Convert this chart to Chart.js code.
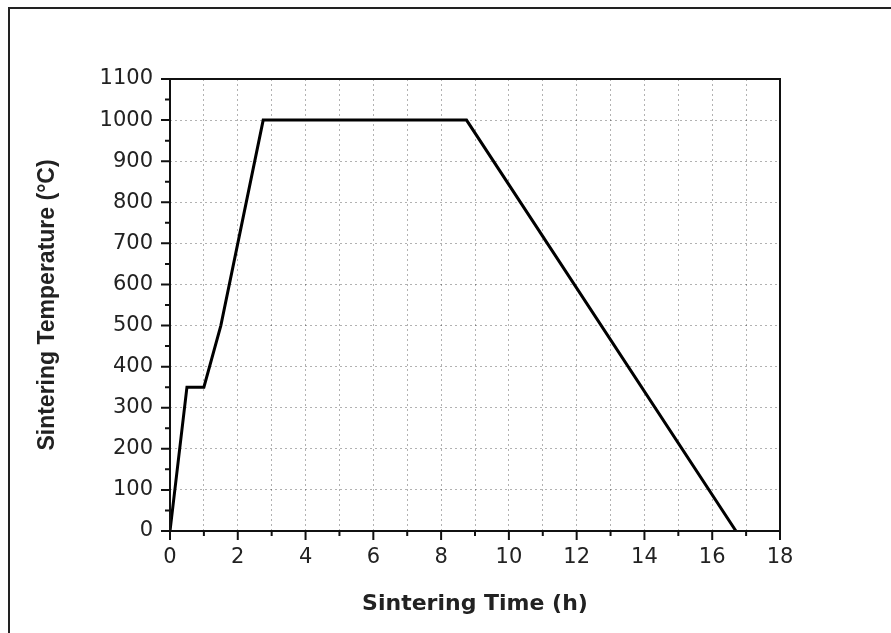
<!DOCTYPE html>
<html>
<head>
<meta charset="utf-8">
<title>Sintering Profile</title>
<script src="https://cdn.jsdelivr.net/npm/chart.js@4.4.0/dist/chart.umd.min.js"></script>
<style>
html, body { margin: 0; padding: 0; background: #fff; }
</style>
</head>
<body>
<canvas id="sintering" width="891" height="633"></canvas>
<script>
// heating schedule: time (h) vs furnace temperature (°C)
var timeH = [0, 0.5, 1.0, 1.5, 2.75, 8.75, 16.7];
var tempC = [0, 350, 350, 500, 1000, 1000, 0];

var xMin = 0, xMax = 18, xStep = 1;
var yMin = 0, yMax = 1100, yStep = 100;

var profile = timeH.map(function (t, i) {
    return { x: t, y: tempC[i] };
});

// outer frame, plot box and outward tick marks
var framePlugin = {
    id: 'frame',
    beforeDraw: function (chart) {
        var ctx = chart.ctx;
        ctx.save();
        ctx.fillStyle = '#fff';
        ctx.fillRect(0, 0, chart.width, chart.height);
        ctx.strokeStyle = '#222';
        ctx.lineWidth = 2;
        ctx.beginPath();
        ctx.moveTo(9, chart.height);
        ctx.lineTo(9, 8);
        ctx.lineTo(chart.width, 8);
        ctx.stroke();
        ctx.restore();
    },
    afterDatasetsDraw: function (chart) {
        var ctx = chart.ctx, a = chart.chartArea;
        var xs = chart.scales.x, ys = chart.scales.y;
        ctx.save();
        ctx.strokeStyle = '#111';
        ctx.lineWidth = 2;
        ctx.strokeRect(a.left, a.top, a.right - a.left, a.bottom - a.top);
        ctx.beginPath();
        for (var t = xMin; t <= xMax; t += xStep) {
            var px = xs.getPixelForValue(t);
            ctx.moveTo(px, a.bottom);
            ctx.lineTo(px, a.bottom + (t % 2 === 0 ? 9 : 5));
        }
        for (var v = yMin; v <= yMax; v += yStep / 2) {
            var py = ys.getPixelForValue(v);
            ctx.moveTo(a.left, py);
            ctx.lineTo(a.left - (v % yStep === 0 ? 9 : 5), py);
        }
        ctx.stroke();
        ctx.restore();
    }
};

var gridLook = {
    color: 'rgba(0, 0, 0, 0.3)',
    lineWidth: 1,
    drawTicks: false
};

new Chart(document.getElementById('sintering'), {
    type: 'scatter',
    data: {
        datasets: [{
            data: profile,
            showLine: true,
            borderColor: '#000',
            borderWidth: 3,
            pointRadius: 0,
            tension: 0
        }]
    },
    options: {
        responsive: false,
        animation: false,
        layout: {
            padding: { left: 20, top: 79, right: 111, bottom: 0 }
        },
        plugins: {
            legend: { display: false },
            tooltip: { enabled: false }
        },
        scales: {
            x: {
                type: 'linear',
                min: xMin,
                max: xMax,
                grid: gridLook,
                border: { display: false, dash: [2, 3] },
                ticks: {
                    stepSize: xStep,
                    padding: 14,
                    color: '#222',
                    font: { family: 'DejaVu Sans', size: 21 },
                    callback: function (v) { return v % 2 === 0 ? String(v) : ''; }
                },
                title: {
                    display: true,
                    text: 'Sintering Time (h)',
                    color: '#222',
                    font: { family: 'DejaVu Sans', size: 22, weight: 'bold' },
                    padding: { top: 0, bottom: 16 }
                },
                afterFit: function (scale) { scale.height = 102; }
            },
            y: {
                type: 'linear',
                min: yMin,
                max: yMax,
                grid: gridLook,
                border: { display: false, dash: [2, 3] },
                ticks: {
                    stepSize: yStep,
                    padding: 17,
                    color: '#222',
                    font: { family: 'DejaVu Sans', size: 21 },
                    callback: function (v) { return String(v); }
                },
                title: {
                    display: true,
                    text: 'Sintering Temperature (°C)',
                    color: '#222',
                    font: { family: 'Liberation Sans', size: 23, weight: 'bold' },
                    padding: { top: 14, bottom: 0 }
                },
                afterFit: function (scale) { scale.width = 150; }
            }
        }
    },
    plugins: [framePlugin]
});
</script>
</body>
</html>
